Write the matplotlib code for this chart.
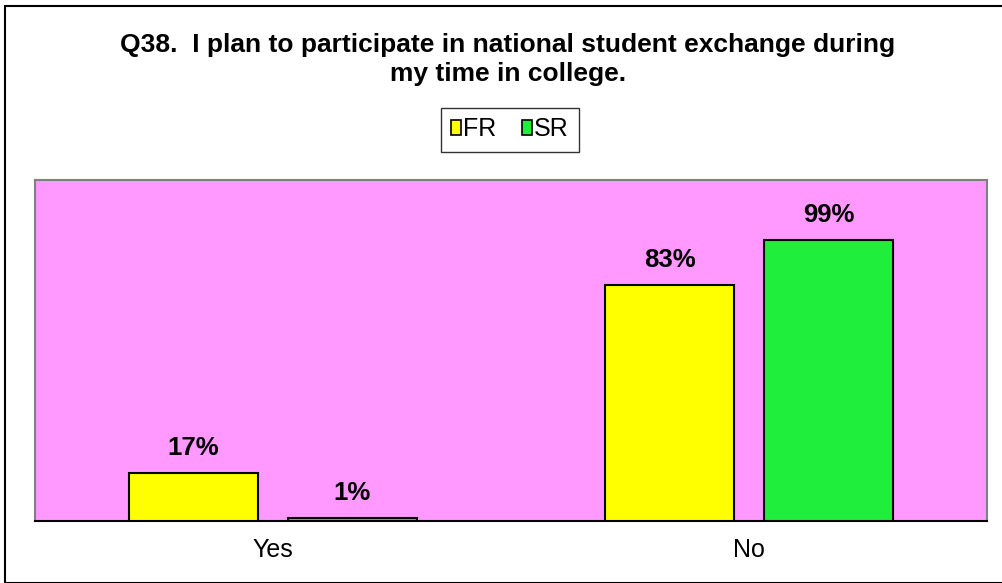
#!/usr/bin/python3

# Q38 bar chart, FR vs SR answers

import matplotlib
matplotlib.use('Agg')
import matplotlib.pyplot as plt
import matplotlib.patches as mpatches
import numpy as np

plt.rcParams['font.family'] = ['Liberation Sans', 'DejaVu Sans']

# data
categories = ['Yes', 'No']
series_names = ['FR', 'SR']
fr_values = [17, 83]
sr_values = [1, 99]
title_lines = ['Q38.  I plan to participate in national student exchange during',
               'my time in college.']

fr_color = '#FFFF00'
sr_color = '#20EE3C'
bg_color = '#FF99FF'

fig = plt.figure(figsize=(10.03, 5.83), dpi=100)

# outer border (only top/left visible in the original)
border = mpatches.Rectangle((5/1003, 0), 1.2, 1 - 6/583, transform=fig.transFigure,
                            fill=False, edgecolor='black', linewidth=1.5)
fig.patches.append(border)

ax = fig.add_axes([35/1003, 62/583, 952/1003, 341/583])
ax.set_facecolor(bg_color)

x = np.arange(len(categories))
width = 0.269
off = 0.167
b1 = ax.bar(x - off, fr_values, width, color=fr_color, edgecolor='black', linewidth=1.5, zorder=3)
b2 = ax.bar(x + off, sr_values, width, color=sr_color, edgecolor='black', linewidth=1.5, zorder=3)

for xs, vals in ((x - off, fr_values), (x + off, sr_values)):
    for xi, v in zip(xs, vals):
        ax.annotate('%d%%' % v, (xi, v), xytext=(0, 13), textcoords='offset points',
                    ha='center', va='baseline', fontsize=18.5, fontweight='bold')

ax.set_xlim(-0.5, 1.5)
ax.set_ylim(0, 120)
ax.set_xticks(x)
ax.set_xticklabels(categories, fontsize=18)
ax.tick_params(axis='x', length=0, pad=12)
ax.set_yticks([])
for s in ('top', 'left', 'right'):
    ax.spines[s].set_color('#808080')
    ax.spines[s].set_linewidth(1.5)
ax.spines['bottom'].set_color('black')
ax.spines['bottom'].set_linewidth(1.5)

# title, two lines
fig.text(508/1003, 1 - 52/583, title_lines[0], ha='center', va='baseline',
         fontsize=19, fontweight='bold')
fig.text(508/1003, 1 - 81/583, title_lines[1], ha='center', va='baseline',
         fontsize=19, fontweight='bold')

handles = [mpatches.Patch(facecolor=fr_color, edgecolor='black', linewidth=1.2, label=series_names[0]),
           mpatches.Patch(facecolor=sr_color, edgecolor='black', linewidth=1.2, label=series_names[1])]
leg = fig.legend(handles=handles, loc='center', bbox_to_anchor=(510/1003, 1 - 129.5/583),
                 ncol=2, fontsize=18, frameon=True, fancybox=False, shadow=False,
                 handlelength=0.4, handleheight=0.55, handletextpad=0.1,
                 columnspacing=1.0, borderpad=0.4, borderaxespad=0)
leg.get_frame().set_edgecolor('black')
leg.get_frame().set_linewidth(1.0)

plt.savefig('out.png', dpi=100)
